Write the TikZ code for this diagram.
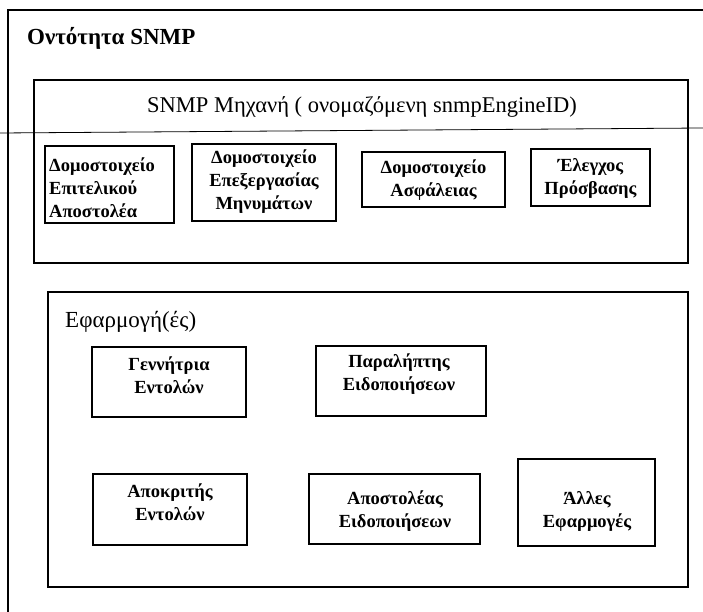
\documentclass[tikz,border=0pt]{standalone}
\usepackage{fontspec}
\setmainfont{Liberation Serif}
\begin{document}
\begin{tikzpicture}[x=1pt,y=-1pt,
  frame/.style={draw, line width=1.3pt, inner sep=0pt},
  module/.style={draw, line width=1.3pt, inner sep=0pt},
  thickmodule/.style={draw, line width=1.8pt, inner sep=0pt},
  modtext/.style={font=\fontsize{18.5}{23}\selectfont\bfseries, align=center, inner sep=0pt},
  heading/.style={font=\fontsize{23}{23}\selectfont\bfseries, inner sep=0pt},
  caption/.style={font=\fontsize{22.5}{22.5}\selectfont, inner sep=0pt},
  applabel/.style={font=\fontsize{23}{23}\selectfont, inner sep=0pt},
  rule/.style={draw, line width=0.8pt}
]
\useasboundingbox (0,0) rectangle (703,612);

% outer entity border (top and left edges)
\coordinate (otl) at (8,10);
\coordinate (otr) at (703,10);
\coordinate (obl) at (8,612);
\draw[line width=1.3pt] (otr) -- (otl) -- (obl);
\node[heading, anchor=base west] (entity) at (27,45) {Οντότητα SNMP};

% SNMP engine
\node[frame, minimum width=654pt, minimum height=183pt] (engine) at (361,171.5) {};
\node[caption, anchor=base] (enginetitle) at (362,113) {SNMP Μηχανή ( ονομαζόμενη snmpEngineID)};
\coordinate (rulel) at (0,133);
\coordinate (ruler) at (703,128);
\draw[rule] (rulel) -- (ruler);

\node[module, minimum width=129pt, minimum height=77pt] (disp) at (109.5,184.5) {};
\node[modtext, align=left, anchor=west] (disptext) at (49,188) {Δομοστοιχείο\\Επιτελικού\\Αποστολέα};

\node[module, minimum width=144pt, minimum height=77pt] (msg) at (264,182.5) {};
\node[modtext] (msgtext) at (264,182) {Δομοστοιχείο\\Επεξεργασίας\\Μηνυμάτων};

\node[module, minimum width=143pt, minimum height=55pt] (sec) at (433.5,179.5) {};
\node[modtext] (sectext) at (433.5,180) {Δομοστοιχείο\\Ασφάλειας};

\node[module, minimum width=119pt, minimum height=57pt] (acc) at (590.5,177.5) {};
\node[modtext] (acctext) at (590.5,178.5) {Έλεγχος\\Πρόσβασης};

% applications
\node[frame, minimum width=640pt, minimum height=295pt] (apps) at (368,439.5) {};
\node[applabel, anchor=base west] (appstitle) at (65,327) {Εφαρμογή(ές)};

\node[module, minimum width=154pt, minimum height=70pt] (cmdgen) at (169,382) {};
\node[modtext] (cmdgentext) at (169,375) {Γεννήτρια\\Εντολών};

\node[module, minimum width=170pt, minimum height=70pt] (notrcv) at (401,381) {};
\node[modtext] (notrcvtext) at (399,374) {Παραλήπτης\\Ειδοποιήσεων};

\node[module, minimum width=154pt, minimum height=71pt] (cmdrsp) at (170,509.5) {};
\node[modtext] (cmdrsptext) at (170,502) {Αποκριτής\\Εντολών};

\node[module, minimum width=171pt, minimum height=70pt] (notorig) at (394.5,509) {};
\node[modtext] (notorigtext) at (395,511) {Αποστολέας\\Ειδοποιήσεων};

\node[thickmodule, minimum width=137pt, minimum height=87pt] (other) at (586.5,502.5) {};
\node[modtext] (othertext) at (587,511) {Άλλες\\Εφαρμογές};
\end{tikzpicture}
\end{document}
